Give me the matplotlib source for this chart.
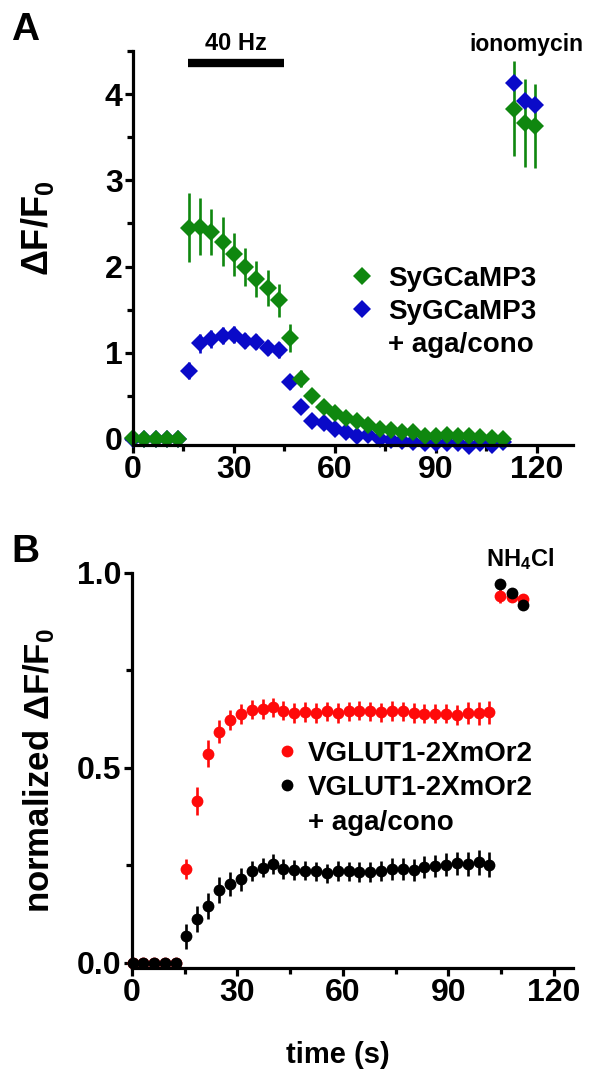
import numpy as np
import matplotlib
matplotlib.use("Agg")
import matplotlib.pyplot as plt
from matplotlib.lines import Line2D
from matplotlib.ticker import MultipleLocator

plt.rcParams['font.family'] = ['Liberation Sans', 'DejaVu Sans']
plt.rcParams['font.weight'] = 'bold'
plt.rcParams['mathtext.fontset'] = 'custom'
plt.rcParams['mathtext.rm'] = 'Liberation Sans:bold'
plt.rcParams['mathtext.bf'] = 'Liberation Sans:bold'
plt.rcParams['mathtext.default'] = 'bf'

# ---- panel A: SyGCaMP3 (dF/F0) ----
t_a = [0.0, 3.3, 6.7, 10.0, 13.3, 16.7, 20.0, 23.3, 26.7, 30.0, 33.3, 36.7,
       40.0, 43.3, 46.7, 50.0, 53.3, 56.7, 60.0, 63.3, 66.7, 70.0, 73.3, 76.7,
       80.0, 83.3, 86.7, 90.0, 93.3, 96.7, 100.0, 103.3, 106.7, 110.0]
green = [0.01, 0.0, 0.0, 0.0, 0.0, 2.45, 2.46, 2.40, 2.29, 2.14, 2.00, 1.86,
         1.75, 1.61, 1.17, 0.70, 0.50, 0.37, 0.30, 0.24, 0.21, 0.16, 0.12, 0.10,
         0.08, 0.08, 0.04, 0.04, 0.05, 0.03, 0.03, 0.02, 0.01, 0.0]
green_err = [0.02, 0.02, 0.02, 0.02, 0.02, 0.40, 0.33, 0.27, 0.28, 0.25, 0.22, 0.21,
             0.21, 0.19, 0.16, 0.10, 0.06, 0.05, 0.04, 0.04, 0.03, 0.03, 0.03, 0.03,
             0.03, 0.03, 0.02, 0.02, 0.02, 0.02, 0.02, 0.02, 0.02, 0.02]
blue = [0.0, 0.0, 0.0, 0.0, 0.0, 0.79, 1.11, 1.16, 1.20, 1.21, 1.14, 1.13,
        1.06, 1.03, 0.66, 0.37, 0.21, 0.18, 0.12, 0.08, 0.03, 0.05, 0.0, -0.01,
        -0.02, -0.04, -0.05, -0.05, -0.05, -0.05, -0.08, -0.05, -0.07, -0.03]
blue_err = [0.02, 0.02, 0.02, 0.02, 0.02, 0.10, 0.11, 0.10, 0.10, 0.10, 0.09, 0.09,
            0.09, 0.09, 0.08, 0.05, 0.04, 0.03, 0.03, 0.03, 0.03, 0.03, 0.02, 0.02,
            0.02, 0.02, 0.02, 0.02, 0.02, 0.02, 0.02, 0.02, 0.02, 0.02]
t_iono = [113.4, 116.5, 119.5]
green_iono = [3.83, 3.67, 3.63]
green_iono_err = [0.55, 0.51, 0.49]
blue_iono = [4.13, 3.92, 3.87]
blue_iono_err = [0.03, 0.03, 0.03]
stim_start, stim_end = 16.3, 44.8

# ---- panel B: VGLUT1-2XmOr2 (normalized dF/F0) ----
t_b = [0.2, 3.2, 6.3, 9.3, 12.4, 15.4, 18.6, 21.5, 24.8, 28.0, 31.1, 34.1,
       37.2, 40.1, 43.1, 46.2, 49.2, 52.4, 55.4, 58.5, 61.7, 64.7, 67.7, 70.9,
       74.0, 77.0, 80.2, 83.2, 86.3, 89.4, 92.5, 95.5, 98.7, 101.7]
red = [0.0, 0.0, 0.0, 0.0, 0.0, 0.240, 0.415, 0.536, 0.593, 0.623, 0.638, 0.649,
       0.651, 0.655, 0.647, 0.640, 0.643, 0.640, 0.645, 0.640, 0.645, 0.647, 0.645, 0.642,
       0.646, 0.645, 0.640, 0.639, 0.639, 0.639, 0.636, 0.640, 0.640, 0.642]
red_err = [0.005, 0.005, 0.005, 0.005, 0.005, 0.025, 0.035, 0.035, 0.03, 0.025, 0.025, 0.025,
           0.025, 0.025, 0.025, 0.025, 0.025, 0.025, 0.025, 0.025, 0.025, 0.025, 0.025, 0.025,
           0.025, 0.025, 0.025, 0.025, 0.025, 0.025, 0.025, 0.028, 0.03, 0.03]
black = [0.0, 0.0, 0.0, 0.0, 0.0, 0.067, 0.112, 0.146, 0.187, 0.202, 0.214, 0.235,
         0.244, 0.253, 0.240, 0.238, 0.236, 0.234, 0.229, 0.235, 0.234, 0.232, 0.232, 0.235,
         0.240, 0.240, 0.238, 0.245, 0.248, 0.251, 0.255, 0.253, 0.257, 0.251]
black_err = [0.005, 0.005, 0.005, 0.005, 0.005, 0.033, 0.033, 0.033, 0.033, 0.03, 0.03, 0.025,
             0.025, 0.025, 0.025, 0.025, 0.025, 0.025, 0.025, 0.025, 0.025, 0.025, 0.025, 0.025,
             0.028, 0.028, 0.028, 0.028, 0.028, 0.03, 0.03, 0.03, 0.032, 0.032]
t_nh4 = [104.8, 108.1, 111.2]
red_nh4 = [0.942, 0.938, 0.934]
red_nh4_err = [0.02, 0.01, 0.01]
black_nh4 = [0.972, 0.949, 0.918]
black_nh4_err = [0.01, 0.01, 0.01]

GREEN = '#0f870f'
BLUE = '#0a0ac8'
RED = '#ff0a0a'
BLACK = '#000000'

TICK_FS = 23
LEG_FS = 20
DIA_MS = 9.5
DOT_MS = 8.5


def style_axes(ax):
    for side in ('top', 'right'):
        ax.spines[side].set_visible(False)
    for side in ('left', 'bottom'):
        ax.spines[side].set_linewidth(2.3)
    ax.tick_params(which='major', length=5.5, width=2.3, labelsize=TICK_FS, pad=2)
    ax.tick_params(which='minor', length=4, width=2.3)
    ax.xaxis.set_major_locator(MultipleLocator(30))
    ax.xaxis.set_minor_locator(MultipleLocator(15))


def series(ax, t, y, err, color, marker, ms):
    ax.errorbar(t, y, yerr=err, fmt=marker, color=color, ms=ms, mec=color,
                mew=0, elinewidth=1.9, capsize=0, clip_on=False)


fig = plt.figure(figsize=(5.9, 10.72), dpi=100)

# panel A
ax_a = fig.add_axes([0.2254, 0.5849, 0.7458, 0.3675])
style_axes(ax_a)
series(ax_a, t_a, blue, blue_err, BLUE, 'D', DIA_MS)
series(ax_a, t_iono, blue_iono, blue_iono_err, BLUE, 'D', DIA_MS)
series(ax_a, t_a, green, green_err, GREEN, 'D', DIA_MS)
series(ax_a, t_iono, green_iono, green_iono_err, GREEN, 'D', DIA_MS)
ax_a.set_xlim(0, 130.8)
ax_a.set_ylim(-0.07, 4.5)
ax_a.yaxis.set_major_locator(MultipleLocator(1))
ax_a.yaxis.set_minor_locator(MultipleLocator(0.5))
ax_a.set_ylabel('ΔF/F$_0$', fontsize=26, fontweight='bold')
ax_a.yaxis.set_label_coords(-0.175, 0.55)

ax_a.plot([stim_start, stim_end], [4.36, 4.36], color='black', lw=6,
          solid_capstyle='butt', clip_on=False)
ax_a.text((stim_start + stim_end) / 2, 4.59, '40 Hz', ha='center', va='center',
          fontsize=17, fontweight='bold')
ax_a.text(117.0, 4.57, 'ionomycin', ha='center', va='center',
          fontsize=16.5, fontweight='bold', clip_on=False)

h_green = Line2D([], [], marker='D', ls='none', color=GREEN, ms=DIA_MS, mew=0)
h_blue = Line2D([], [], marker='D', ls='none', color=BLUE, ms=DIA_MS, mew=0)
h_none = Line2D([], [], ls='none')
ax_a.legend([h_green, h_blue, h_none], ['SyGCaMP3', 'SyGCaMP3', '+ aga/cono'],
            loc='upper left', bbox_to_anchor=(0.495, 0.455), frameon=False,
            borderpad=0, borderaxespad=0, handlelength=0.8, handletextpad=0.55,
            labelspacing=0.25, prop={'size': LEG_FS, 'weight': 'bold'})

# panel B
ax_b = fig.add_axes([0.2237, 0.097, 0.7475, 0.3685])
style_axes(ax_b)
series(ax_b, t_b, red, red_err, RED, 'o', DOT_MS)
series(ax_b, t_nh4, red_nh4, red_nh4_err, RED, 'o', DOT_MS)
series(ax_b, t_b, black, black_err, BLACK, 'o', DOT_MS)
series(ax_b, t_nh4, black_nh4, black_nh4_err, BLACK, 'o', DOT_MS)
ax_b.set_xlim(0, 125.5)
ax_b.set_ylim(-0.014, 1.0)
ax_b.yaxis.set_major_locator(MultipleLocator(0.5))
ax_b.yaxis.set_minor_locator(MultipleLocator(0.25))
ax_b.yaxis.set_major_formatter(matplotlib.ticker.FormatStrFormatter('%.1f'))
ax_b.set_ylabel('normalized ΔF/F$_0$', fontsize=25, fontweight='bold')
ax_b.yaxis.set_label_coords(-0.17, 0.5)
ax_b.set_xlabel('time (s)', fontsize=21, fontweight='bold')
ax_b.xaxis.set_label_coords(0.467, -0.185)

ax_b.text(110.4, 1.035, 'NH$_4$Cl', ha='center', va='center',
          fontsize=17, fontweight='bold', clip_on=False)

h_red = Line2D([], [], marker='o', ls='none', color=RED, ms=DOT_MS, mew=0)
h_black = Line2D([], [], marker='o', ls='none', color=BLACK, ms=DOT_MS, mew=0)
ax_b.legend([h_red, h_black, h_none], ['VGLUT1-2XmOr2', 'VGLUT1-2XmOr2', '+ aga/cono'],
            loc='upper left', bbox_to_anchor=(0.3265, 0.575), frameon=False,
            borderpad=0, borderaxespad=0, handlelength=0.8, handletextpad=0.35,
            labelspacing=0.3, prop={'size': LEG_FS, 'weight': 'bold'})

fig.text(25 / 590, 1 - 30 / 1072, 'A', fontsize=28, fontweight='bold',
         ha='center', va='center')
fig.text(25 / 590, 1 - 552 / 1072, 'B', fontsize=28, fontweight='bold',
         ha='center', va='center')

fig.savefig('out.png', dpi=100)
